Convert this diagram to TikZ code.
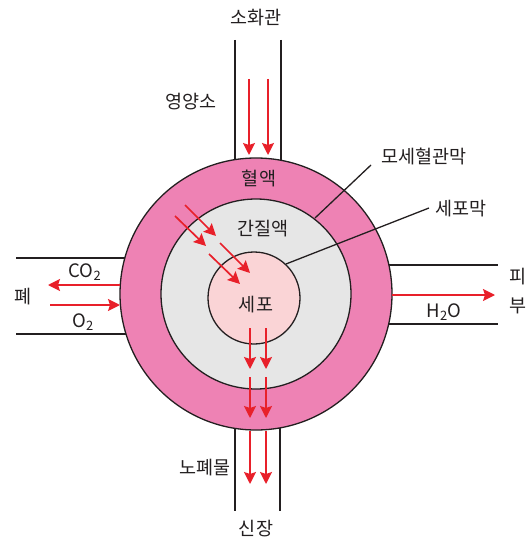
\documentclass[tikz,border=0pt]{standalone}
\usepackage{fontspec}
\setmainfont{Noto Sans CJK KR}
\usetikzlibrary{arrows.meta}
\definecolor{ringpink}{RGB}{238,130,180}
\definecolor{fluidgray}{RGB}{230,230,230}
\definecolor{cellpink}{RGB}{250,212,214}
\definecolor{arrowred}{RGB}{232,32,42}
\definecolor{ink}{RGB}{35,31,32}
\begin{document}
\begin{tikzpicture}[x=1pt,y=-1pt,
  lbl/.style={font=\fontsize{18.5}{20}\selectfont, text=ink, inner sep=0pt},
  tube/.style={draw=ink, line width=1.4pt},
  flow/.style={draw=arrowred, line width=1.7pt, -{Stealth[length=12pt,width=12pt,inset=2pt]}},
  rim/.style={draw=ink, line width=1.3pt},
  lead/.style={draw=ink, line width=1.3pt}]
\useasboundingbox (0,0) rectangle (527,540);
\coordinate (C) at (256,294);
\coordinate (CC) at (254,298);
% tubes
\draw[tube] (235,40) -- (235,200);
\draw[tube] (281,40) -- (281,200);
\draw[tube] (235,400) -- (235,511);
\draw[tube] (280,400) -- (280,511);
\draw[tube] (16,258) -- (150,258);
\draw[tube] (16,334) -- (150,334);
\draw[tube] (360,265) -- (498,265);
\draw[tube] (360,324) -- (498,324);
% circles
\path[fill=ringpink, rim] (C) circle[radius=136];
\path[fill=fluidgray, rim] (C) circle[radius=95];
\path[fill=cellpink, rim] (CC) circle[radius=46];
% arrows
\draw[flow] (249,79) -- (249,155);
\draw[flow] (268,79) -- (268,155);
\draw[flow] (120,285) -- (48,285);
\draw[flow] (50,305) -- (120,305);
\draw[flow] (392,295) -- (495,295);
\draw[flow] (250,328) -- (250,369);
\draw[flow] (266,328) -- (266,369);
\draw[flow] (250,377) -- (250,418);
\draw[flow] (266,377) -- (266,418);
\draw[flow] (250,431) -- (250,484);
\draw[flow] (266,431) -- (266,484);
\draw[flow] (185,205) -- (216,236);
\draw[flow] (175,216) -- (206,246);
\draw[flow] (220,243) -- (250,273);
\draw[flow] (209,254) -- (240,284);
% labels
\node[lbl] (gut) at (256,18) {소화관};
\node[lbl] (nutr) at (191,102) {영양소};
\node[lbl] (blood) at (259,178) {혈액};
\node[lbl] (isf) at (263,229) {간질액};
\node[lbl] (cell) at (256,305) {세포};
\node[lbl] (capm) at (424,156) {모세혈관막};
\node[lbl] (cellm) at (461,209) {세포막};
\node[lbl] (lung) at (23,297) {폐};
\node[lbl] (co2) at (85,272) {CO\textsubscript{2}};
\node[lbl] (o2) at (83,322) {O\textsubscript{2}};
\node[lbl] (h2o) at (444,312) {H\textsubscript{2}O};
\node[lbl, anchor=west] (skin1) at (509,277) {피};
\node[lbl, anchor=west] (skin2) at (509,306) {부};
\node[lbl, anchor=east] (waste) at (231,468) {노폐물};
\node[lbl] (kidney) at (256,529) {신장};
% leader lines
\coordinate (capmEnd) at (315,218);
\coordinate (capmStart) at (371,165);
\coordinate (cellmEnd) at (286,264);
\coordinate (cellmStart) at (429,208);
\draw[lead] (capmStart) -- (capmEnd);
\draw[lead] (cellmStart) -- (cellmEnd);
\end{tikzpicture}
\end{document}
